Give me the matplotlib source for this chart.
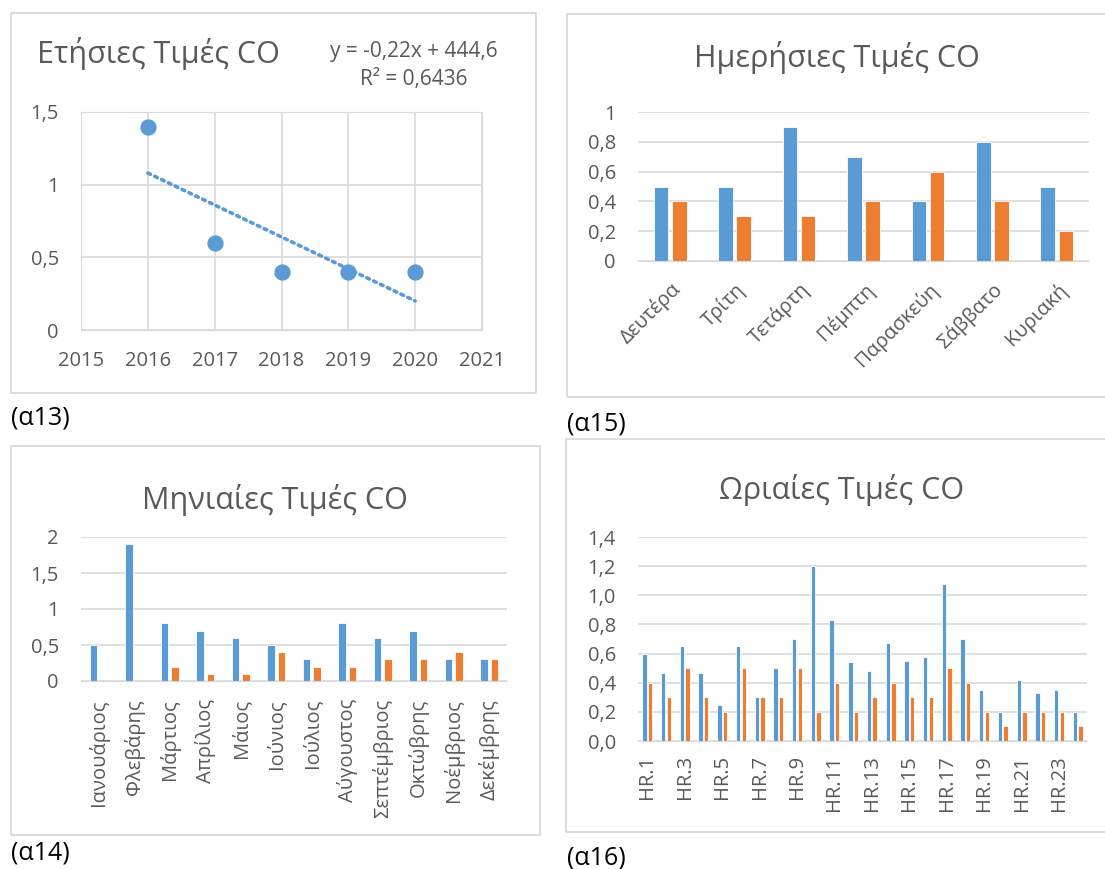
import matplotlib
matplotlib.use("Agg")
import matplotlib.pyplot as plt
import numpy as np
from matplotlib.patches import Rectangle
from matplotlib.ticker import FuncFormatter

plt.rcParams['font.family'] = ['Open Sans', 'DejaVu Sans']

# data
years = [2016, 2017, 2018, 2019, 2020]
co_year = [1.4, 0.6, 0.4, 0.4, 0.4]

days = ['Δευτέρα', 'Τρίτη', 'Τετάρτη', 'Πέμπτη', 'Παρασκεύη', 'Σάββατο', 'Κυριακή']
day_a = [0.5, 0.5, 0.9, 0.7, 0.4, 0.8, 0.5]
day_b = [0.4, 0.3, 0.3, 0.4, 0.6, 0.4, 0.2]

months = ['Ιανουάριος', 'Φλεβάρης', 'Μάρτιος', 'Απρίλιος', 'Μάιος', 'Ιούνιος', 'Ιούλιος',
          'Αύγουστος', 'Σεπτέμβριος', 'Οκτώβρης', 'Νοέμβριος', 'Δεκέμβρης']
month_a = [0.5, 1.9, 0.8, 0.7, 0.6, 0.5, 0.3, 0.8, 0.6, 0.7, 0.3, 0.3]
month_b = [0.0, 0.0, 0.2, 0.1, 0.1, 0.4, 0.2, 0.2, 0.3, 0.3, 0.4, 0.3]

hours = ['HR.%d' % h for h in range(1, 25)]
hour_a = [0.6, 0.47, 0.65, 0.47, 0.25, 0.65, 0.3, 0.5, 0.7, 1.2, 0.83, 0.54,
          0.48, 0.67, 0.55, 0.575, 1.075, 0.7, 0.35, 0.2, 0.42, 0.33, 0.35, 0.2]
hour_b = [0.4, 0.3, 0.5, 0.3, 0.2, 0.5, 0.3, 0.3, 0.5, 0.2, 0.4, 0.2,
          0.3, 0.4, 0.3, 0.3, 0.5, 0.4, 0.2, 0.1, 0.2, 0.2, 0.2, 0.1]

BLUE = '#5B9BD5'
ORANGE = '#ED7D31'
GRID = '#D9D9D9'
TXT = '#595959'
TICK = 14.5
TITLE = 22

W, H = 1105, 869
fig = plt.figure(figsize=(W / 100, H / 100), dpi=100)


def ax_px(l, t, r, b):
    return fig.add_axes([l / W, 1 - b / H, (r - l) / W, (b - t) / H])


def box(l, t, r, b):
    fig.patches.append(Rectangle((l / W, 1 - b / H), (r - l) / W, (b - t) / H,
                                 transform=fig.transFigure, fill=False,
                                 edgecolor=GRID, lw=1.3))


def ftext(x, y, s, **kw):
    fig.text(x / W, 1 - y / H, s, va='center', **kw)


def gfmt(v, p):
    return ('%g' % round(v, 2)).replace('.', ',')


def style(ax, xpad):
    for s in ['top', 'right', 'left']:
        ax.spines[s].set_visible(False)
    ax.spines['bottom'].set_color(GRID)
    ax.yaxis.grid(True, color=GRID, lw=1.2)
    ax.set_axisbelow(True)
    ax.tick_params(length=0, colors=TXT, labelsize=TICK)
    ax.tick_params(axis='y', pad=16)
    ax.tick_params(axis='x', pad=xpad)


def bars(ax, a, b, w, off):
    x = np.arange(len(a))
    ax.bar(x - off, a, w, color=BLUE, edgecolor='white', lw=0.6)
    ax.bar(x + off, b, w, color=ORANGE, edgecolor='white', lw=0.6)
    ax.set_xlim(-0.5, len(a) - 0.5)


# boxes round each chart
box(11, 13, 536, 393)
box(11, 446, 540, 835)
box(567, 14, 1112, 397)
box(566, 439, 1112, 832)

for txt, x, y in [('(α13)', 11, 418), ('(α14)', 11, 853), ('(α15)', 567, 424), ('(α16)', 567, 858)]:
    ftext(x, y, txt, fontsize=18, color='black', ha='left')

# (α13) annual scatter with trend line
ax1 = ax_px(81, 112, 482, 330)
ax1.scatter(years, co_year, s=115, color=BLUE, zorder=3)
k, c = np.polyfit(years, co_year, 1)
pred = np.polyval([k, c], years)
r2 = 1 - np.sum((np.array(co_year) - pred) ** 2) / np.sum((np.array(co_year) - np.mean(co_year)) ** 2)
ax1.plot([years[0], years[-1]], np.polyval([k, c], [years[0], years[-1]]),
         ls=(0, (0.8, 1.3)), color=BLUE, lw=2.6, zorder=2, dash_capstyle='round')
ax1.set_xlim(2015, 2021)
ax1.set_ylim(0, 1.5)
ax1.set_xticks(range(2015, 2022))
ax1.set_yticks([0, 0.5, 1, 1.5])
ax1.yaxis.set_major_formatter(FuncFormatter(gfmt))
ax1.grid(True, color=GRID, lw=1.2)
for s in ax1.spines.values():
    s.set_color(GRID)
ax1.tick_params(length=0, colors=TXT, labelsize=TICK)
ax1.tick_params(axis='y', pad=16)
ax1.tick_params(axis='x', pad=15)
ftext(37, 53, 'Ετήσιες Τιμές CO', fontsize=TITLE, color=TXT, ha='left')
ftext(414, 52, 'y = %sx + %s' % (('%.2f' % k).replace('.', ','), ('%.1f' % c).replace('.', ',')),
      fontsize=15, color=TXT, ha='center')
ftext(414, 80, 'R² = %s' % ('%.4f' % r2).replace('.', ','), fontsize=15, color=TXT, ha='center')

# (α15) daily
ax2 = ax_px(638, 112, 1089, 261)
bars(ax2, day_a, day_b, 0.225, 0.141)
ax2.set_ylim(0, 1)
ax2.set_yticks(np.arange(0, 1.01, 0.2))
ax2.yaxis.set_major_formatter(FuncFormatter(gfmt))
style(ax2, 13)
ax2.set_xticks(range(len(days)))
ax2.set_xticklabels(days, rotation=45, ha='right', rotation_mode='anchor')
ftext(837, 58, 'Ημερήσιες Τιμές CO', fontsize=TITLE, color=TXT, ha='center')

# (α14) monthly
ax3 = ax_px(81, 537, 507, 681)
bars(ax3, month_a, month_b, 0.215, 0.145)
ax3.set_ylim(0, 2)
ax3.set_yticks([0, 0.5, 1, 1.5, 2])
ax3.yaxis.set_major_formatter(FuncFormatter(gfmt))
style(ax3, 13)
ax3.set_xticks(range(len(months)))
ax3.set_xticklabels(months, rotation=90)
ftext(275, 500, 'Μηνιαίες Τιμές CO', fontsize=TITLE, color=TXT, ha='center')

# (α16) hourly
ax4 = ax_px(638, 537, 1087, 741)
bars(ax4, hour_a, hour_b, 0.235, 0.15)
ax4.set_ylim(0, 1.4)
ax4.set_yticks(np.arange(0, 1.41, 0.2))
ax4.yaxis.set_major_formatter(FuncFormatter(lambda v, p: ('%.1f' % v).replace('.', ',')))
style(ax4, 10)
ax4.set_xticks(range(0, 24, 2))
ax4.set_xticklabels(hours[::2], rotation=90)
ftext(842, 490, 'Ωριαίες Τιμές CO', fontsize=TITLE, color=TXT, ha='center')

fig.savefig('out.png', dpi=100, facecolor='white')
